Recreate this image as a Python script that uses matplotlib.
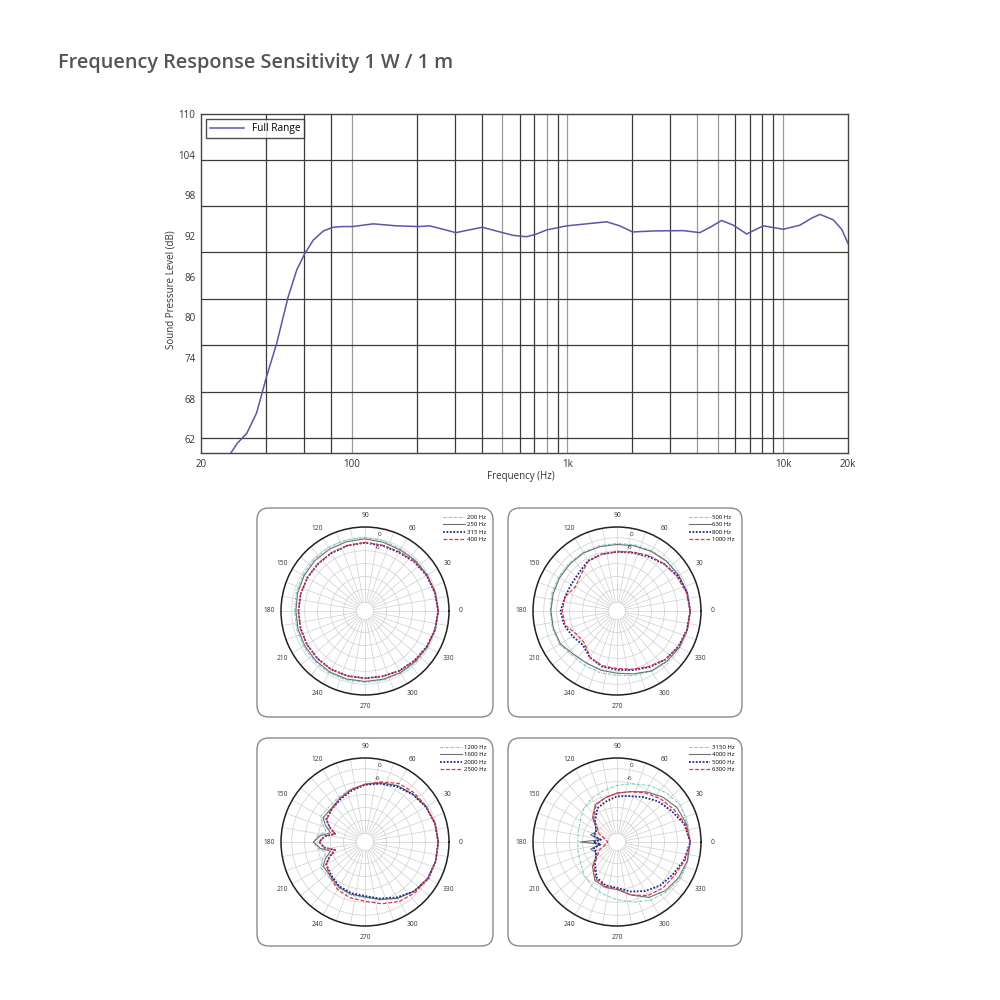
import numpy as np
import matplotlib
matplotlib.use("Agg")
import matplotlib.pyplot as plt
from matplotlib.patches import FancyBboxPatch

plt.rcParams['font.family'] = ['Open Sans', 'DejaVu Sans']

# ---------------- data: frequency response ----------------
title = "Frequency Response Sensitivity 1 W / 1 m"
series_name = "Full Range"
freq_hz = [27.5, 29.5, 32.6, 36.2, 40.3, 44.9, 50.8, 55.6, 60.3, 66.3, 73.8, 82.1,
           91, 101, 125.8, 161.5, 205, 230, 265, 304, 350, 403, 487, 560, 647, 720, 801,
           991, 1227, 1520, 1750, 2005, 2500, 3445, 4113, 4650, 5190, 5875, 6780, 7400,
           8095, 10020, 11970, 13500, 14820, 17070, 18700, 20000]
spl_db = [60.0, 61.45, 62.9, 65.9, 71.3, 76.2, 83.1, 87.0, 89.3, 91.4, 92.75, 93.3,
          93.4, 93.4, 93.8, 93.5, 93.4, 93.5, 93.0, 92.5, 92.9, 93.3, 92.6, 92.1, 91.9, 92.3, 92.9,
          93.5, 93.8, 94.1, 93.5, 92.6, 92.75, 92.8, 92.5, 93.4, 94.3, 93.6, 92.3, 92.9,
          93.5, 93.0, 93.6, 94.6, 95.2, 94.4, 93.0, 90.9]
y_ticks = [62, 68, 74, 80, 86, 92, 98, 104, 110]
x_ticks = [20, 100, 1000, 10000, 20000]
x_tick_labels = ["20", "100", "1k", "10k", "20k"]
grid_freq_dark = [40, 60, 80, 200, 300, 400, 600, 700, 900, 2000, 3000, 6000, 7000, 8000, 9000]
grid_freq_light = [100, 500, 800, 1000, 4000, 5000, 10000]
grid_db = [103.2, 96.4, 89.7, 82.7, 75.9, 69.0, 62.2]

# ---------------- data: polar plots ----------------
ang_a = [0, 15, 30, 45, 60, 75, 90, 105, 120, 135, 150, 165, 180, 195, 210, 225,
         240, 255, 270, 285, 300, 315, 330, 345]
ang_c = [0, 15, 30, 45, 60, 75, 90, 105, 120, 135, 150, 157, 165, 172, 180, 188,
         195, 203, 210, 225, 240, 255, 270, 285, 300, 315, 330, 345]
ang_b = [0, 15, 30, 45, 60, 75, 90, 105, 120, 135, 145, 155, 165, 172, 180, 188,
         195, 205, 215, 225, 240, 255, 270, 285, 300, 315, 330, 345]

p1_labels = ["200 Hz", "250 Hz", "315 Hz", "400 Hz"]
p1_200 = [0, -0.2, -0.4, -0.7, -0.8, -0.3, 0.2, 0.2, 0, -0.3, -0.7, -1.0, -1.3, -1.2,
          -1.1, -0.9, -0.7, -0.8, -0.9, -0.8, -0.7, -0.5, -0.4, -0.2]
p1_250 = [0, -0.3, -0.7, -0.9, -1.3, -1.0, -0.5, -0.7, -0.9, -1.0, -1.3, -1.6, -1.9,
          -1.8, -1.7, -1.5, -1.3, -1.3, -1.3, -1.2, -1.0, -0.9, -0.7, -0.3]
p1_315 = [0, -0.5, -1.0, -1.7, -2.6, -2.6, -2.3, -2.6, -2.9, -3.1, -3.1, -3.1, -3.1,
          -3.0, -2.9, -2.8, -2.7, -2.8, -2.8, -2.6, -2.0, -1.5, -0.9, -0.4]
p1_400 = [0, -0.4, -0.9, -1.5, -2.2, -2.4, -2.1, -2.5, -2.8, -3.0, -3.1, -3.1, -3.1,
          -3.0, -2.9, -2.7, -2.6, -2.7, -2.7, -2.5, -1.9, -1.4, -0.8, -0.3]

p2_labels = ["500 Hz", "630 Hz", "800 Hz", "1000 Hz"]
p2_500 = [0, -0.3, -0.7, -1.1, -1.7, -2.2, -2.6, -2.6, -2.6, -2.6, -2.6, -2.7, -3.0,
          -3.0, -3.2, -4.7, -4.7, -4.3, -4.1, -3.0, -1.7, -0.9, -0.4, -0.2]
p2_630 = [0, -0.3, -0.9, -1.4, -2.1, -2.7, -3.1, -3.1, -2.9, -3.1, -3.2, -3.3, -3.3,
          -3.4, -3.6, -5.5, -6.0, -5.5, -5.1, -3.8, -1.9, -1.1, -0.5, -0.2]
p2_800 = [0, -0.4, -1.4, -3.1, -4.8, -6.0, -6.5, -6.7, -7.1, -9.0, -9.4, -9.0, -7.8,
          -8.6, -10.3, -11.6, -9.0, -7.3, -6.7, -5.6, -3.9, -2.2, -1.1, -0.4]
p2_1000 = [0, -0.7, -1.9, -3.0, -4.3, -5.6, -6.5, -6.7, -7.3, -10.3, -11.6, -9.0, -8.6,
           -9.0, -12.4, -12.8, -9.0, -7.7, -7.3, -6.0, -4.3, -2.2, -0.9, -0.3]

p3_labels = ["1200 Hz", "1600 Hz", "2000 Hz", "2500 Hz"]
p3_1200 = [0, -0.4, -1.3, -2.6, -3.8, -5.5, -7.2, -8.5, -9.8, -10.6, -10.2, -12.5, -15.3,
           -12.0, -10.2, -12.0, -15.3, -12.5, -10.2, -10.6, -9.4, -8.5, -8.1, -6.4, -3.8,
           -1.7, -0.4, 0]
p3_1600 = [0, -0.4, -1.3, -2.6, -3.8, -5.5, -7.2, -8.9, -10.6, -11.9, -11.5, -14.0, -17.4,
           -13.0, -10.0, -13.0, -17.4, -14.0, -11.5, -11.5, -9.8, -8.9, -8.5, -6.4, -3.8,
           -1.7, -0.4, 0]
p3_2000 = [0, -0.4, -1.3, -2.7, -4.3, -6.0, -7.4, -9.4, -11.1, -12.3, -13.2, -16.0, -19.6,
           -15.0, -12.7, -15.0, -19.6, -16.0, -13.2, -11.9, -10.2, -9.4, -8.9, -6.8, -4.3,
           -1.7, 0, 0]
p3_2500 = [0, -0.4, -1.0, -1.7, -2.6, -5.1, -7.2, -8.9, -10.6, -12.3, -13.4, -16.2, -19.6,
           -15.0, -12.8, -15.0, -19.6, -16.2, -13.2, -11.1, -8.5, -7.2, -6.5, -4.3, -2.1,
           -0.9, -0.3, 0]

p4_labels = ["3150 Hz", "4000 Hz", "5000 Hz", "6300 Hz"]
p4_3150 = [0, -0.2, 0, -1.7, -3.7, -6.0, -7.7, -9.4, -10.5, -12.3, -13.6, -14.9, -15.3,
           -15.7, -15.9, -15.7, -15.3, -14.9, -14.0, -12.3, -10.5, -8.9, -7.2, -5.1,
           -2.8, -1.3, -0.1, 0]
p4_4000 = [0, -0.7, -1.9, -4.3, -7.1, -9.8, -11.3, -12.8, -13.9, -17.9, -22.1, -23.0,
           -21.3, -26.4, -17.0, -26.4, -21.3, -23.0, -22.1, -17.9, -13.4, -12.3, -11.9,
           -8.5, -4.3, -2.1, -0.9, -0.2]
p4_5000 = [0, -1.7, -4.9, -7.2, -9.9, -11.9, -12.8, -14.5, -15.9, -19.6, -22.1, -23.4,
           -22.7, -26.4, -23.0, -26.4, -22.7, -23.4, -22.1, -19.6, -15.0, -13.2, -12.7,
           -10.2, -7.7, -5.5, -4.0, -1.7]
p4_6300 = [0, -1.3, -3.6, -5.5, -7.7, -9.8, -11.3, -12.8, -14.2, -18.7, -23.0, -24.7,
           -28.1, -28.9, -29.8, -28.9, -28.1, -24.7, -23.0, -18.7, -14.2, -12.8, -12.3,
           -8.5, -5.3, -3.8, -3.1, -1.3]

ring_db = [-24, -18, -12, -6, 0]
ring_labels = {0: "0", -6: "-6"}
theta_label_deg = list(range(0, 360, 30))
theta_labels = [str(a) for a in theta_label_deg]
spoke_deg = list(range(0, 360, 10))

# ---------------- figure ----------------
fig = plt.figure(figsize=(10, 10), dpi=100)
fig.patch.set_facecolor('white')

fig.text(0.058, 0.932, title, fontsize=14.3, fontweight='semibold', color='#555555',
         ha='left', va='baseline')

ax = fig.add_axes([0.201, 0.547, 0.647, 0.339])
ax.set_xscale('log')
ax.set_xlim(20, 20000)
ax.set_ylim(60, 110)
for f in grid_freq_dark:
    ax.axvline(f, color='#3a3a3a', lw=0.9, zorder=1)
for f in grid_freq_light:
    ax.axvline(f, color='#9a9a9a', lw=0.9, zorder=1)
ax.set_yticks(grid_db, minor=True)
ax.yaxis.grid(True, which='minor', color='#3a3a3a', lw=0.9)
ax.yaxis.grid(False, which='major')
ax.set_yticks(y_ticks)
ax.set_yticklabels([str(v) for v in y_ticks])
ax.set_xticks(x_ticks)
ax.set_xticklabels(x_tick_labels)
ax.xaxis.set_minor_locator(matplotlib.ticker.NullLocator())
ax.tick_params(axis='both', which='both', length=0, labelsize=7, colors='#333333')
ax.tick_params(axis='x', pad=4)
ax.tick_params(axis='y', pad=4)
for s in ax.spines.values():
    s.set_color('#444444')
    s.set_linewidth(1.0)
ax.plot(freq_hz, spl_db, color='#5b56a6', lw=1.1, label=series_name, zorder=3)
leg = ax.legend(loc='upper left', bbox_to_anchor=(0.008, 0.985), borderaxespad=0,
                fontsize=7.3, frameon=True, fancybox=False, handlelength=3.3,
                borderpad=0.4, handletextpad=0.8)
leg.get_frame().set_edgecolor('#222222')
leg.get_frame().set_linewidth(1.0)
fig.text(0.521, 1 - 0.477, "Frequency (Hz)", fontsize=7, ha='center', va='center', color='#333333')
fig.text(0.171, 1 - 0.29, "Sound Pressure Level (dB)", fontsize=7, ha='center', va='center',
         rotation=90, color='#333333')

# ---------------- polar panels ----------------
styles = [
    dict(color='#6ec7bb', ls=(0, (2.2, 1.0, 0.6, 1.0)), lw=0.8),
    dict(color='#6f6f6f', ls='-', lw=0.8),
    dict(color='#1e2a8c', ls=(0, (1.0, 0.9)), lw=1.3),
    dict(color='#e0314b', ls=(0, (3.0, 1.5)), lw=0.9),
]

R = 84  # px
panels = [
    ((365, 611), (257, 508, 493, 717), ang_a, [p1_200, p1_250, p1_315, p1_400], p1_labels),
    ((617, 611), (508, 508, 742, 717), ang_a, [p2_500, p2_630, p2_800, p2_1000], p2_labels),
    ((365, 842), (257, 738, 493, 946), ang_c, [p3_1200, p3_1600, p3_2000, p3_2500], p3_labels),
    ((617, 842), (508, 738, 742, 946), ang_b, [p4_3150, p4_4000, p4_5000, p4_6300], p4_labels),
]

for (cx, cy), (bx0, by0, bx1, by1), angs, vals, labels in panels:
    box = FancyBboxPatch((bx0 / 1000, 1 - by1 / 1000), (bx1 - bx0) / 1000, (by1 - by0) / 1000,
                         boxstyle="round,pad=0,rounding_size=0.012",
                         transform=fig.transFigure, facecolor='none',
                         edgecolor='#8a8a8a', lw=1.0, zorder=-1)
    fig.patches.append(box)
    pax = fig.add_axes([(cx - R) / 1000, 1 - (cy + R) / 1000, 2 * R / 1000, 2 * R / 1000],
                       projection='polar')
    pax.set_facecolor('none')
    pax.set_rorigin(-34)
    pax.set_rlim(-30, 5)
    pax.set_rticks(ring_db)
    pax.set_yticklabels([])
    pax.set_xticks(np.deg2rad(theta_label_deg))
    pax.set_xticklabels(theta_labels)
    pax.set_xticks(np.deg2rad(spoke_deg), minor=True)
    pax.xaxis.grid(True, which='both', color='#cfcfcf', lw=0.5)
    pax.yaxis.grid(True, color='#cfcfcf', lw=0.5)
    pax.tick_params(axis='x', which='both', length=0, labelsize=4.8, colors='#333333', pad=1.5)
    pax.tick_params(axis='y', length=0)
    pax.spines['polar'].set_color('#222222')
    pax.spines['polar'].set_linewidth(1.1)
    pax.spines['inner'].set_color('#cfcfcf')
    pax.spines['inner'].set_linewidth(0.5)
    for ring, txt in ring_labels.items():
        pax.text(np.deg2rad(79), ring + 2.0, txt, fontsize=4.6, ha='center', va='center',
                 color='#333333')
    th = np.deg2rad(np.append(angs, 360))
    handles = []
    for v, st, lab in zip(vals, styles, labels):
        ln, = pax.plot(th, np.append(v, v[0]), label=lab, **st)
        handles.append(ln)
    fig.legend(handles, labels, loc='upper right',
               bbox_to_anchor=((bx1 - 7) / 1000, 1 - (by0 + 7) / 1000),
               fontsize=4.3, frameon=False, handlelength=3.6, labelspacing=0.35,
               handletextpad=0.3, borderpad=0, borderaxespad=0)

fig.savefig("out.png", dpi=100)
